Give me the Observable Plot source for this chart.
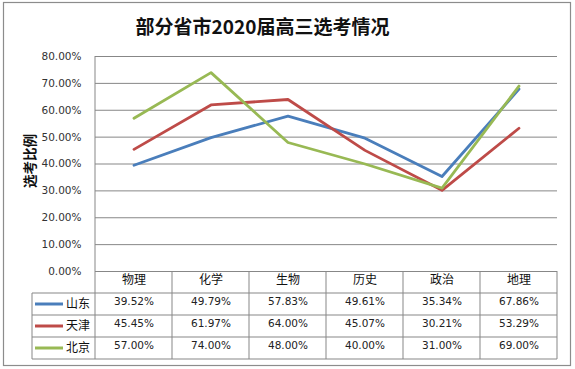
<!DOCTYPE html>
<html><head><meta charset="utf-8">
<script src="https://cdn.jsdelivr.net/npm/d3@7"></script>
<script src="https://cdn.jsdelivr.net/npm/@observablehq/plot@0.6"></script>
<style>html,body{margin:0;padding:0;background:#fff} svg{display:block}</style>
</head><body><div id="chart"></div>
<script>
const title = "部分省市2020届高三选考情况";
const yLabel = "选考比例";
const subjects = ["物理","化学","生物","历史","政治","地理"];
const regions = ["山东","天津","北京"];
const shandong = [39.52, 49.79, 57.83, 49.61, 35.34, 67.86];
const tianjin  = [45.45, 61.97, 64.00, 45.07, 30.21, 53.29];
const beijing  = [57.00, 74.00, 48.00, 40.00, 31.00, 69.00];
const yTicks = [0, 10, 20, 30, 40, 50, 60, 70, 80];
const colors = ["#4a7ebb", "#be4b48", "#98b954"];

const series = [shandong, tianjin, beijing];
const data = regions.flatMap((r, i) => subjects.map((s, j) => ({region: r, subject: s, value: series[i][j]})));
const pct = v => v.toFixed(2) + "%";
const cjk = "'Noto Sans CJK SC', 'Noto Sans', sans-serif";
const gridColor = "#878787";
const rowH = 22;

function tableMark(index, scales, values, dims) {
  const {x, y} = scales;
  const bw = x(subjects[1]) - x(subjects[0]);
  const x0 = x(subjects[0]);
  const x1 = x(subjects[subjects.length - 1]) + bw;
  const yTop = y(0);
  const legendLeft = 32;
  const g = d3.create("svg:g");
  g.append("rect").attr("x", 3.5).attr("y", 2.5)
    .attr("width", dims.width - 8).attr("height", dims.height - 6)
    .attr("fill", "none").attr("stroke", "#8c8c8c").attr("stroke-width", 1.2);
  const rowsTop = yTop + rowH;
  const bottom = yTop + rowH * (regions.length + 1);
  g.append("line").attr("x1", x0).attr("x2", x0).attr("y1", y(80)).attr("y2", bottom)
    .attr("stroke", gridColor);
  subjects.forEach((s) => {
    const xx = x(s) + bw;
    g.append("line").attr("x1", xx).attr("x2", xx).attr("y1", yTop).attr("y2", bottom).attr("stroke", gridColor);
  });
  g.append("line").attr("x1", legendLeft).attr("x2", legendLeft).attr("y1", rowsTop).attr("y2", bottom).attr("stroke", gridColor);
  for (let k = 0; k <= regions.length; k++) {
    const yy = rowsTop + k * rowH;
    g.append("line").attr("x1", legendLeft).attr("x2", x1).attr("y1", yy).attr("y2", yy).attr("stroke", gridColor);
  }
  regions.forEach((r, i) => {
    const cy = rowsTop + i * rowH + rowH / 2;
    g.append("line").attr("x1", 35).attr("x2", 63).attr("y1", cy).attr("y2", cy)
      .attr("stroke", colors[i]).attr("stroke-width", 3);
    g.append("text").attr("x", 66).attr("y", cy).attr("dy", "0.35em")
      .attr("text-anchor", "start")
      .attr("font-family", cjk).attr("font-size", 12).attr("fill", "#111").text(r);
  });
  return g.node();
}

const chart = Plot.plot({
  width: 575,
  height: 369,
  marginLeft: 95,
  marginRight: 18,
  marginTop: 56,
  marginBottom: 98,
  style: {fontFamily: "'DejaVu Sans', sans-serif", fontSize: "10.5px", color: "#333", background: "#fff"},
  x: {type: "band", domain: subjects, padding: 0, axis: null},
  y: {domain: [0, 80], axis: null},
  marks: [
    Plot.ruleY(yTicks, {stroke: gridColor, strokeWidth: 1}),
    Plot.axisY(yTicks, {tickSize: 0, tickPadding: 14, tickFormat: pct, fontSize: 10.5, fill: "#333", label: null}),
    Plot.line(data, {x: "subject", y: "value", z: "region", stroke: d => colors[regions.indexOf(d.region)], strokeWidth: 2.8}),
    tableMark,
    Plot.text(subjects, {x: d => d, frameAnchor: "bottom", dy: rowH / 2 + 1, fontFamily: cjk, fontSize: 12, fill: "#111"}),
    ...regions.map((r, i) => Plot.text(data.filter(d => d.region === r), {
      x: "subject", frameAnchor: "bottom", dy: rowH * (i + 1) + rowH / 2, text: d => pct(d.value), fontSize: 10.5, fill: "#222"
    })),
    Plot.text([title], {frameAnchor: "top-left", dx: 262 - 95, dy: -29, lineAnchor: "middle", textAnchor: "middle", fontFamily: cjk, fontWeight: "bold", fontSize: 19, fill: "#111"}),
    Plot.text([yLabel], {frameAnchor: "left", dx: -65, dy: -3, rotate: -90, textAnchor: "middle", lineAnchor: "middle", fontFamily: cjk, fontWeight: "bold", fontSize: 13.5, fill: "#111"})
  ]
});
document.getElementById("chart").appendChild(chart);
</script>
</body></html>
